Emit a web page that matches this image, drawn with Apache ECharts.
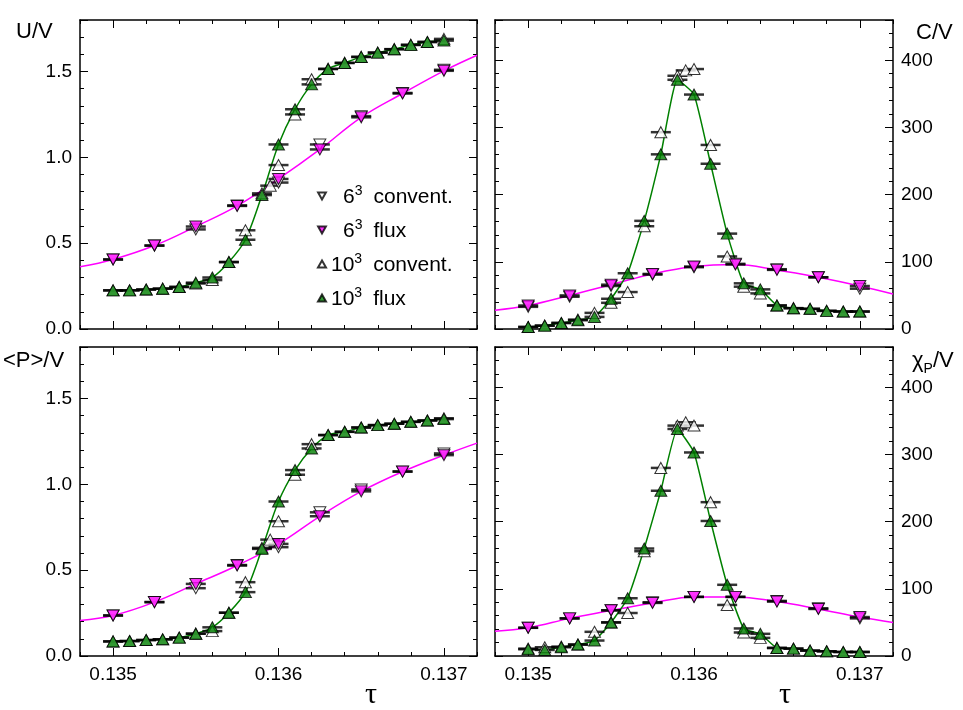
<!DOCTYPE html>
<html>
<head>
<meta charset="utf-8">
<script src="https://cdn.jsdelivr.net/npm/echarts@6/dist/echarts.min.js"></script>
<style>
html, body { margin: 0; padding: 0; background: #fff; }
#chart { width: 963px; height: 710px; }
</style>
</head>
<body>
<div id="chart"></div>
<script>
// hopping parameter values
var tau10 = [0.1350, 0.1351, 0.1352, 0.1353, 0.1354, 0.1355, 0.1356, 0.1357, 0.1358, 0.1359, 0.1360,
             0.1361, 0.1362, 0.1363, 0.1364, 0.1365, 0.1366, 0.1367, 0.1368, 0.1369, 0.1370];
var tauConv10 = [0.1350, 0.1351, 0.1352, 0.1353, 0.1354, 0.1355, 0.1356, 0.1357, 0.1358, 0.1359, 0.13595, 0.1360,
                 0.1361, 0.1362, 0.1363, 0.1364, 0.1365, 0.1366, 0.1367, 0.1368, 0.1369, 0.1370];
var tau6 = [0.13500, 0.13525, 0.13550, 0.13575, 0.13600, 0.13625, 0.13650, 0.13675, 0.13700];
var tauEdge = [0.1348, 0.1372];
var xLabels = [0.135, 0.136, 0.137];

// U/V
var u6conv = [0.405, 0.486, 0.580, 0.720, 0.853, 1.075, 1.240, 1.375, 1.510];
var u6flux = [0.405, 0.486, 0.597, 0.717, 0.874, 1.046, 1.233, 1.372, 1.504];
var u6edge = [0.362, 1.595];
var u10conv = [0.225, 0.225, 0.230, 0.235, 0.245, 0.265, 0.285, 0.390, 0.575, 0.790, 0.835, 0.955,
               1.250, 1.455, 1.515, 1.550, 1.585, 1.610, 1.630, 1.655, 1.672, 1.690];
var u10flux = [0.225, 0.225, 0.230, 0.235, 0.245, 0.270, 0.300, 0.390, 0.520, 0.780, 1.075,
               1.280, 1.425, 1.515, 1.550, 1.585, 1.610, 1.630, 1.655, 1.672, 1.680];

// C/V
var c6conv = [33, 48, 64, 81, 92, 97, 89, 77, 60];
var c6flux = [35, 50, 66, 82, 93, 96, 88, 77, 64];
var c6edge = [28, 52];
var c10conv = [3, 5, 9, 14, 24, 39, 55, 153, 293, 377, 385, 387, 274, 108, 63, 53, 35, 31, 30, 27, 26, 26];
var c10flux = [3, 5, 9, 13, 18, 45, 83, 161, 260, 371, 349, 246, 142, 68, 59, 35, 31, 30, 27, 26, 26];

// <P>/V
var p6conv = [0.236, 0.314, 0.395, 0.530, 0.634, 0.837, 0.970, 1.075, 1.180];
var p6flux = [0.236, 0.314, 0.420, 0.527, 0.653, 0.814, 0.959, 1.074, 1.170];
var p6edge = [0.207, 1.240];
var p10conv = [0.085, 0.087, 0.093, 0.097, 0.107, 0.130, 0.145, 0.252, 0.430, 0.630, 0.678, 0.785,
               1.056, 1.234, 1.287, 1.306, 1.331, 1.345, 1.353, 1.364, 1.372, 1.385];
var p10flux = [0.085, 0.087, 0.093, 0.097, 0.107, 0.130, 0.167, 0.252, 0.372, 0.624, 0.900,
               1.083, 1.209, 1.287, 1.306, 1.331, 1.345, 1.353, 1.364, 1.372, 1.380];

// chi_P/V
var x6conv = [42, 56, 68, 80, 88, 88, 82, 71, 56];
var x6flux = [42, 56, 68, 79, 88, 88, 81, 70, 58];
var x6edge = [37, 50];
var x10conv = [11, 13, 14, 17, 36, 50, 64, 156, 280, 343, 348, 343, 229, 76, 35, 27, 12, 11, 8, 7, 6, 6];
var x10flux = [10, 9, 13, 17, 23, 50, 86, 160, 246, 338, 303, 201, 106, 41, 33, 12, 11, 8, 7, 6, 6];

var font = 'Liberation Sans, Arial, Helvetica, sans-serif';
var MAGENTA = '#ff00ff', GREEN = '#008000';
var downPath = 'path://M0,0L10,0L5,9Z';

function pts(xs, ys) {
    return xs.map(function (x, i) { return [x, ys[i]]; });
}

var panels = [
    {grid: {left: 80, top: 20, width: 397, height: 309}, ymax: 1.8, yint: 0.5, right: false, xlab: false,
     c6: u6conv, f6: u6flux, e6: u6edge, c10: u10conv, f10: u10flux},
    {grid: {left: 495, top: 20, width: 398, height: 309}, ymax: 460, yint: 100, right: true, xlab: false,
     c6: c6conv, f6: c6flux, e6: c6edge, c10: c10conv, f10: c10flux},
    {grid: {left: 80, top: 347, width: 397, height: 309}, ymax: 1.8, yint: 0.5, right: false, xlab: true,
     c6: p6conv, f6: p6flux, e6: p6edge, c10: p10conv, f10: p10flux},
    {grid: {left: 495, top: 347, width: 398, height: 309}, ymax: 460, yint: 100, right: true, xlab: true,
     c6: x6conv, f6: x6flux, e6: x6edge, c10: x10conv, f10: x10flux}
];

var lineBlack = {color: '#000', width: 1};
var grids = [], xAxes = [], yAxes = [], series = [];

panels.forEach(function (p, g) {
    grids.push(p.grid);
    ['bottom', 'top'].forEach(function (pos) {
        // minor ticks every 0.0002
        xAxes.push({
            type: 'value', gridIndex: g, position: pos, min: tauEdge[0], max: tauEdge[1], interval: 0.0002,
            axisLine: {show: true, onZero: false, lineStyle: {color: '#000', width: 1.5}},
            axisTick: {show: true, inside: true, length: 4, lineStyle: lineBlack},
            axisLabel: {show: p.xlab && pos === 'bottom', customValues: xLabels, margin: 9,
                        color: '#000', fontSize: 19, fontFamily: font},
            splitLine: {show: false}
        });
        // major ticks at labels
        xAxes.push({
            type: 'value', gridIndex: g, position: pos, min: tauEdge[0], max: tauEdge[1],
            axisLine: {show: false, onZero: false},
            axisTick: {show: true, inside: true, length: 8, customValues: xLabels, lineStyle: lineBlack},
            axisLabel: {show: false},
            splitLine: {show: false}
        });
    });
    ['left', 'right'].forEach(function (pos) {
        yAxes.push({
            type: 'value', gridIndex: g, position: pos, min: 0, max: p.ymax, interval: p.yint,
            axisLine: {show: true, onZero: false, lineStyle: {color: '#000', width: 1.5}},
            axisTick: {show: true, inside: true, length: 8, lineStyle: lineBlack},
            minorTick: {show: true, splitNumber: 5, length: 4, lineStyle: lineBlack},
            axisLabel: {
                show: (pos === 'right') === p.right, margin: 8, showMaxLabel: false,
                color: '#000', fontSize: 19, fontFamily: font,
                formatter: function (v) { return p.right ? String(v) : v.toFixed(1); }
            },
            splitLine: {show: false}
        });
    });

    var xi = 4 * g, yi = 2 * g;
    var curve = [[tauEdge[0], p.e6[0]]].concat(pts(tau6, p.f6), [[tauEdge[1], p.e6[1]]]);
    series.push({
        type: 'line', xAxisIndex: xi, yAxisIndex: yi, data: curve, smooth: 0.4,
        showSymbol: false, silent: true, lineStyle: {color: MAGENTA, width: 1.5}, z: 1
    });
    series.push({
        type: 'line', xAxisIndex: xi, yAxisIndex: yi, data: pts(tau10, p.f10), smooth: p.right ? 0.15 : 0.3,
        showSymbol: false, silent: true, lineStyle: {color: GREEN, width: 1.5}, z: 1
    });
    var errs = pts(tau6, p.c6).concat(pts(tau6, p.f6), pts(tauConv10, p.c10), pts(tau10, p.f10));
    series.push({
        type: 'scatter', xAxisIndex: xi, yAxisIndex: yi, data: errs, symbol: 'rect',
        symbolSize: [20, 2.5], itemStyle: {color: '#000'}, silent: true, z: 2
    });
    series.push({
        name: '6^3 convent.', type: 'scatter', xAxisIndex: xi, yAxisIndex: yi, data: pts(tau6, p.c6),
        symbol: 'triangle', symbolRotate: 180, symbolSize: [12, 11],
        itemStyle: {color: '#fff', borderColor: '#000', borderWidth: 1}, z: 3
    });
    series.push({
        name: '10^3 convent.', type: 'scatter', xAxisIndex: xi, yAxisIndex: yi, data: pts(tauConv10, p.c10),
        symbol: 'triangle', symbolSize: [12, 11],
        itemStyle: {color: '#fff', borderColor: '#000', borderWidth: 1}, z: 3
    });
    series.push({
        name: '6^3 flux', type: 'scatter', xAxisIndex: xi, yAxisIndex: yi, data: pts(tau6, p.f6),
        symbol: 'triangle', symbolRotate: 180, symbolSize: [12, 11],
        itemStyle: {color: MAGENTA, borderColor: '#000', borderWidth: 1}, z: 4
    });
    series.push({
        name: '10^3 flux', type: 'scatter', xAxisIndex: xi, yAxisIndex: yi, data: pts(tau10, p.f10),
        symbol: 'triangle', symbolSize: [12, 11],
        itemStyle: {color: GREEN, borderColor: '#000', borderWidth: 1}, z: 4
    });
});

var titleFont = {fontSize: 22, fontFamily: font, fill: '#000'};

var chart = echarts.init(document.getElementById('chart'));
chart.setOption({
    animation: false,
    grid: grids,
    xAxis: xAxes,
    yAxis: yAxes,
    series: series,
    legend: {
        left: 317, top: 180, padding: 0, orient: 'vertical', itemGap: 6, itemWidth: 8, itemHeight: 7,
        selectedMode: false,
        data: [
            {name: '6^3 convent.', icon: downPath},
            {name: '6^3 flux', icon: downPath},
            {name: '10^3 convent.', icon: 'triangle'},
            {name: '10^3 flux', icon: 'triangle'}
        ],
        formatter: function (name) {
            var m = name.match(/^(\d+)\^(\d+) (.*)$/);
            // single digit bases are pushed right so the exponents line up
            var n = m[1].length === 1 ? 'n1' : 'n2';
            return '{' + n + '|' + m[1] + '}{s|' + m[2] + '}{t|' + m[3] + '}';
        },
        textStyle: {
            color: '#000',
            rich: {
                n1: {fontSize: 21, fontFamily: font, lineHeight: 24, padding: [7, 0, 0, 12], verticalAlign: 'bottom'},
                n2: {fontSize: 21, fontFamily: font, lineHeight: 24, padding: [7, 0, 0, 0], verticalAlign: 'bottom'},
                s: {fontSize: 14, fontFamily: font, lineHeight: 14, verticalAlign: 'top'},
                t: {fontSize: 21, fontFamily: font, lineHeight: 24, verticalAlign: 'bottom', padding: [7, 0, 0, 11]}
            }
        }
    },
    graphic: [
        {type: 'text', left: 16, top: 21, style: Object.assign({text: 'U/V'}, titleFont)},
        {type: 'text', left: 916, top: 22, style: Object.assign({text: 'C/V'}, titleFont)},
        {type: 'text', left: 3, top: 350, style: Object.assign({text: '<P>/V'}, titleFont)},
        {type: 'text', left: 912, top: 350, style: {
            text: '{c|χ}{s|P}{c|/V}',
            rich: {
                c: {fontSize: 22, fontFamily: font, fill: '#000', lineHeight: 26, verticalAlign: 'top'},
                s: {fontSize: 14, fontFamily: font, fill: '#000', lineHeight: 14, verticalAlign: 'bottom'}
            }
        }},
        {type: 'text', left: 365, top: 680, style: {text: 'τ', fontSize: 30, fontFamily: 'Liberation Serif, serif', fill: '#000'}},
        {type: 'text', left: 779, top: 680, style: {text: 'τ', fontSize: 30, fontFamily: 'Liberation Serif, serif', fill: '#000'}}
    ]
});
</script>
</body>
</html>
